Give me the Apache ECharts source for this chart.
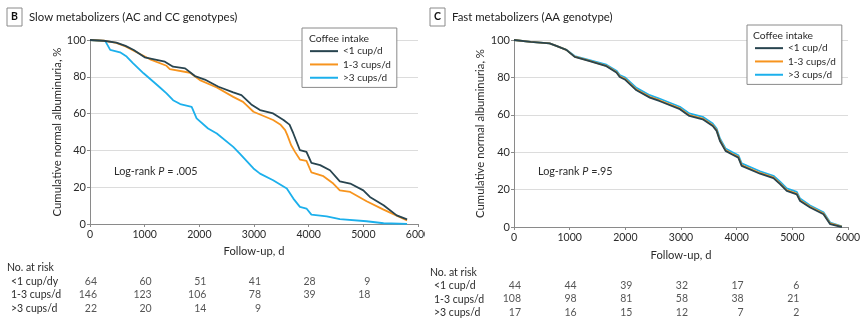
<!DOCTYPE html>
<html>
<head>
<meta charset="utf-8">
<script src="https://cdn.jsdelivr.net/npm/echarts@6/dist/echarts.min.js"></script>
<style>
  html, body { margin: 0; padding: 0; background: #fff; }
  #chart { width: 865px; height: 326px; }
</style>
</head>
<body>
<div id="chart"></div>
<script>
// Kaplan-Meier curves: follow-up day and cumulative % with normal albuminuria
const seriesNames = ['<1 cup/d', '1-3 cups/d', '>3 cups/d'];

// Panel B: slow metabolizers
const slowLowDays = [0, 250, 480, 650, 800, 1000, 1370, 1520, 1740, 1920, 2100, 2350, 2620, 2770, 2950, 3110, 3350, 3540, 3650, 3720, 3840, 3960, 4050, 4210, 4390, 4570, 4760, 5000, 5120, 5370, 5610, 5800];
const slowLowPct  = [100, 99.6, 98.6, 96.8, 94.6, 90.6, 88.2, 85.5, 84.6, 80.4, 78.5, 74.6, 71.5, 70.0, 65.0, 61.9, 60.1, 56.5, 54.0, 49.2, 40.1, 39.2, 33.2, 32.0, 29.2, 23.2, 22.0, 18.3, 14.7, 10.2, 4.7, 2.5];

const slowMidDays = [0, 250, 480, 650, 800, 1100, 1400, 1460, 1830, 2010, 2320, 2620, 2800, 2990, 3110, 3350, 3480, 3570, 3610, 3680, 3750, 3840, 3960, 4050, 4270, 4450, 4570, 4760, 5060, 5370, 5800];
const slowMidPct  = [100, 99.6, 98.4, 96.5, 94.2, 89.5, 86.0, 84.2, 82.2, 78.2, 74.2, 69.1, 66.4, 61.0, 59.5, 56.5, 54.1, 51.0, 48.3, 42.8, 39.2, 35.0, 34.3, 28.0, 26.0, 22.0, 18.3, 17.4, 12.4, 7.8, 2.0];

const slowHighDays = [0, 280, 370, 550, 670, 790, 980, 1160, 1280, 1400, 1520, 1650, 1860, 1950, 2160, 2320, 2620, 2740, 2990, 3110, 3350, 3600, 3720, 3840, 3960, 4050, 4330, 4570, 5060, 5370, 5800];
const slowHighPct  = [100, 99.4, 94.6, 93.3, 91.0, 87.3, 81.9, 77.3, 74.2, 71.0, 67.3, 65.2, 63.7, 57.4, 51.9, 49.2, 41.9, 38.3, 30.2, 27.4, 23.8, 19.3, 13.8, 9.3, 8.4, 5.1, 4.2, 2.6, 1.5, 0.4, 0.1];

// Panel C: fast metabolizers
const fastDays = [0, 300, 640, 760, 940, 1090, 1360, 1660, 1840, 1900, 1990, 2200, 2440, 2610, 2980, 3150, 3390, 3570, 3640, 3700, 3800, 3910, 4030, 4090, 4420, 4660, 4780, 4900, 5080, 5140, 5320, 5560, 5680, 5890];
const fastLowPct  = [100, 99.0, 98.2, 96.9, 94.7, 91.0, 88.7, 86.0, 82.6, 80.2, 78.9, 73.1, 69.2, 67.4, 63.0, 59.4, 57.6, 54.0, 51.4, 46.0, 40.7, 38.9, 37.1, 32.7, 28.5, 26.1, 22.9, 19.3, 17.5, 13.9, 10.4, 6.8, 1.5, 0];
const fastMidPct  = [100, 99.0, 98.2, 96.9, 94.7, 91.1, 88.8, 86.2, 82.9, 80.6, 79.3, 73.5, 69.6, 67.8, 63.4, 59.8, 58.0, 54.4, 51.8, 46.4, 41.1, 39.3, 37.5, 33.1, 28.9, 26.5, 23.3, 19.7, 17.9, 14.3, 10.8, 7.2, 1.9, 0.2];
const fastHighPct = [100, 99.0, 98.2, 96.9, 94.8, 91.4, 89.3, 86.8, 83.6, 81.3, 80.1, 74.4, 70.5, 68.7, 64.3, 60.7, 58.9, 55.3, 52.7, 47.3, 42.0, 40.2, 38.4, 34.0, 29.8, 27.4, 24.2, 20.6, 18.8, 15.2, 11.5, 7.9, 2.4, 0.3];

// Number at risk table
const riskDays = [0, 1000, 2000, 3000, 4000, 5000];
const slowRiskLabels = ['<1 cup/dy', '1-3 cups/d', '>3 cups/d'];
const slowRisk = [
  [64, 60, 51, 41, 28, 9],
  [146, 123, 106, 78, 39, 18],
  [22, 20, 14, 9]
];
const fastRiskLabels = ['<1 cup/d', '1-3 cups/d', '>3 cups/d'];
const fastRisk = [
  [44, 44, 39, 32, 17, 6],
  [108, 98, 81, 58, 38, 21],
  [17, 16, 15, 12, 7, 2]
];

const COLORS = ['#28444f', '#f7941e', '#1cb0ec'];
const FONT = 'Lato, "Open Sans", sans-serif';
const TXT = '#2b2b2b';

function pairs(days, pct) { return days.map((d, i) => [d, pct[i]]); }

function curve(name, days, pct, color, idx) {
  return {
    type: 'line', name, showSymbol: false, symbol: 'none',
    xAxisIndex: idx, yAxisIndex: idx,
    data: pairs(days, pct),
    lineStyle: { color, width: 1.8 },
    itemStyle: { color },
    emphasis: { disabled: true },
    animation: false
  };
}

function riskSeries(table, idx) {
  const data = [];
  table.forEach((row, r) => row.forEach((v, c) => data.push([riskDays[c], r, v])));
  return {
    type: 'scatter', xAxisIndex: idx, yAxisIndex: idx,
    symbolSize: 1, itemStyle: { color: 'rgba(0,0,0,0)' },
    data,
    label: {
      show: true, position: 'inside', align: 'right', offset: [7, 0],
      formatter: p => String(p.value[2]),
      color: TXT, fontFamily: FONT, fontSize: 10.5
    },
    silent: true, animation: false
  };
}

function plotX(gridIndex) {
  return {
    gridIndex, type: 'value', min: 0, max: 6000, interval: 1000,
    name: 'Follow-up, d', nameLocation: 'middle', nameGap: gridIndex === 0 ? 22 : 23,
    nameTextStyle: { color: TXT, fontFamily: FONT, fontSize: 11.2 },
    axisLine: { show: true, lineStyle: { color: '#8a8a8a', width: 1 } },
    axisTick: { show: true, length: 3, lineStyle: { color: '#8a8a8a' } },
    axisLabel: { color: TXT, fontFamily: FONT, fontSize: 10.5, margin: 5, formatter: v => String(v) },
    splitLine: { show: false }
  };
}

function plotY(gridIndex) {
  return {
    gridIndex, type: 'value', min: 0, max: 100, interval: 20,
    name: 'Cumulative normal albuminuria, %', nameLocation: 'middle',
    nameGap: gridIndex === 0 ? 27 : 28,
    nameTextStyle: { color: TXT, fontFamily: FONT, fontSize: 11.3 },
    axisLine: { show: true, lineStyle: { color: '#8a8a8a', width: 1 } },
    axisTick: { show: true, length: 3, lineStyle: { color: '#8a8a8a' } },
    axisLabel: { color: TXT, fontFamily: FONT, fontSize: 11, margin: 4 },
    splitLine: { show: true, lineStyle: { color: '#dcdcdc', width: 1 } }
  };
}

function riskX(gridIndex) {
  return { gridIndex, type: 'value', min: 0, max: 6000, show: false };
}
function riskY(gridIndex) {
  return { gridIndex, type: 'category', data: ['a', 'b', 'c'], inverse: true, show: false };
}

function legendBox(left, top) {
  return {
    orient: 'vertical', left, top,
    data: seriesNames,
    icon: 'rect', itemWidth: 28, itemHeight: 2, itemGap: 0,
    padding: [16.5, 6, 3, 8],
    borderColor: '#8a8a8a', borderWidth: 1, backgroundColor: '#fff',
    textStyle: { color: TXT, fontFamily: FONT, fontSize: 10, lineHeight: 13.3 },
    selectedMode: false
  };
}

function panelLabel(x, letter, title) {
  return [
    { type: 'rect', shape: { x, y: 8, width: 15, height: 18 }, style: { fill: '#fff', stroke: '#8a8a8a', lineWidth: 1 } },
    { type: 'text', x: x + 7.5, y: 17, style: { text: letter, fill: '#111', font: 'bold 10.5px ' + FONT, align: 'center', verticalAlign: 'middle' } },
    { type: 'text', x: x + 22, y: 17, style: { text: title, fill: '#222', font: '11.4px ' + FONT, verticalAlign: 'middle' } }
  ];
}

function logRank(x, y, pText) {
  return {
    type: 'text', x, y,
    style: {
      text: '{n|Log-rank }{i|P}{n| ' + pText + '}',
      verticalAlign: 'middle',
      rich: {
        n: { fill: TXT, fontFamily: FONT, fontSize: 10.8 },
        i: { fill: TXT, fontFamily: FONT, fontSize: 10.8, fontStyle: 'italic' }
      }
    }
  };
}

function riskLabels(x, yHead, yRows, labels) {
  const out = [{ type: 'text', x, y: yHead, style: { text: 'No. at risk', fill: TXT, font: '10.5px ' + FONT, verticalAlign: 'middle' } }];
  labels.forEach((t, i) => out.push({ type: 'text', x: x + 4, y: yRows[i], style: { text: t, fill: TXT, font: '10.5px ' + FONT, verticalAlign: 'middle' } }));
  return out;
}

const chart = echarts.init(document.getElementById('chart'), null, { renderer: 'canvas' });

chart.setOption({
  backgroundColor: '#fff',
  animation: false,
  grid: [
    { left: 90, width: 328, top: 40, height: 184 },
    { left: 514, width: 334, top: 40, height: 187 },
    { left: 90, width: 328, top: 275, height: 40 },
    { left: 514, width: 334, top: 279, height: 40 }
  ],
  xAxis: [plotX(0), plotX(1), riskX(2), riskX(3)],
  yAxis: [plotY(0), plotY(1), riskY(2), riskY(3)],
  legend: [legendBox(302, 28), legendBox(747, 25)],
  series: [
    curve(seriesNames[2], slowHighDays, slowHighPct, COLORS[2], 0),
    curve(seriesNames[1], slowMidDays, slowMidPct, COLORS[1], 0),
    curve(seriesNames[0], slowLowDays, slowLowPct, COLORS[0], 0),
    curve(seriesNames[2], fastDays, fastHighPct, COLORS[2], 1),
    curve(seriesNames[1], fastDays, fastMidPct, COLORS[1], 1),
    curve(seriesNames[0], fastDays, fastLowPct, COLORS[0], 1),
    riskSeries(slowRisk, 2),
    riskSeries(fastRisk, 3)
  ],
  graphic: [
    ...panelLabel(7, 'B', 'Slow metabolizers (AC and CC genotypes)'),
    ...panelLabel(430, 'C', 'Fast metabolizers (AA genotype)'),
    { type: 'text', x: 309, y: 39, z: 100, style: { text: 'Coffee intake', fill: TXT, font: '10.3px ' + FONT, verticalAlign: 'middle' } },
    { type: 'text', x: 753, y: 36, z: 100, style: { text: 'Coffee intake', fill: TXT, font: '10.3px ' + FONT, verticalAlign: 'middle' } },
    logRank(114, 172, '= .005'),
    logRank(538, 172, '=.95'),
    ...riskLabels(7, 268, [281.7, 295, 308.3], slowRiskLabels),
    ...riskLabels(430, 273, [286, 299.3, 312.7], fastRiskLabels),
    // the left panel ends at the panel border, trimming its last tick label
    { type: 'rect', shape: { x: 425, y: 226, width: 5, height: 16 }, style: { fill: '#fff' }, z: 100 }
  ]
});
</script>
</body>
</html>
